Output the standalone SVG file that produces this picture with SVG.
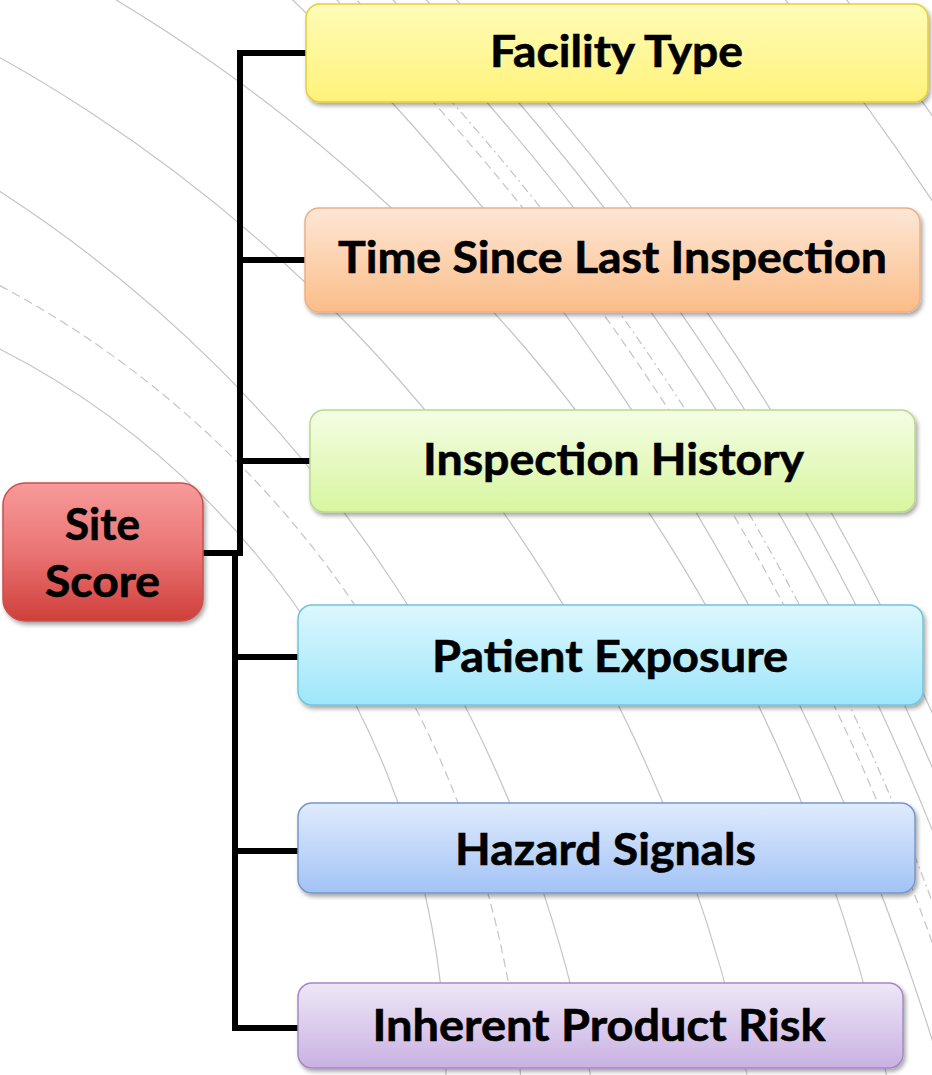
<svg xmlns="http://www.w3.org/2000/svg" width="932" height="1075" viewBox="0 0 932 1075">
<style>
.arc{fill:none;stroke:#c4c4c4;stroke-width:1.2}
.dash{stroke-dasharray:9 5}
.dd{stroke-dasharray:9 4 2 4}
.conn{fill:none;stroke:#000;stroke-width:6;stroke-linejoin:miter}
.lbl{font-family:Lato,'Open Sans','Liberation Sans',sans-serif;font-weight:bold;font-size:44px;fill:#000;stroke:#000;stroke-width:0.6;text-anchor:middle}
.box{stroke-width:1.5;filter:url(#sh)}
</style>
<defs>
<filter id="sh" x="-5%" y="-15%" width="115%" height="140%">
<feDropShadow dx="2" dy="3" stdDeviation="2" flood-color="#000" flood-opacity="0.35"/>
</filter>
<linearGradient id="gRed" x1="0" y1="0" x2="0" y2="1"><stop offset="0" stop-color="#f89a9a"/><stop offset="0.5" stop-color="#ea7474"/><stop offset="1" stop-color="#cf3f3a"/></linearGradient>
<linearGradient id="gYel" x1="0" y1="0" x2="0" y2="1"><stop offset="0" stop-color="#fffcb8"/><stop offset="1" stop-color="#fff27a"/></linearGradient>
<linearGradient id="gOra" x1="0" y1="0" x2="0" y2="1"><stop offset="0" stop-color="#fde7d6"/><stop offset="1" stop-color="#fbbd88"/></linearGradient>
<linearGradient id="gGrn" x1="0" y1="0" x2="0" y2="1"><stop offset="0" stop-color="#f4fde4"/><stop offset="1" stop-color="#d8f6a0"/></linearGradient>
<linearGradient id="gCyn" x1="0" y1="0" x2="0" y2="1"><stop offset="0" stop-color="#ddf7fe"/><stop offset="1" stop-color="#9ee6fa"/></linearGradient>
<linearGradient id="gBlu" x1="0" y1="0" x2="0" y2="1"><stop offset="0" stop-color="#e0ebfd"/><stop offset="1" stop-color="#a2c3f6"/></linearGradient>
<linearGradient id="gPur" x1="0" y1="0" x2="0" y2="1"><stop offset="0" stop-color="#eee7f7"/><stop offset="1" stop-color="#c9b1e2"/></linearGradient>
</defs>
<rect x="0" y="0" width="932" height="1075" fill="#fff"/>
<g id="background-arcs">
<circle class="arc" cx="-374" cy="1079" r="820"/>
<circle class="arc dash" cx="-464" cy="1158" r="988"/>
<circle class="arc" cx="-727" cy="1316" r="1339"/>
<circle class="arc" cx="-743" cy="1386" r="1522"/>
<circle class="arc" cx="-754" cy="1437" r="1680"/>
<circle class="arc" cx="-1458" cy="1793" r="2506"/>
<circle class="arc dash" cx="-1458" cy="1793" r="2537"/>
<circle class="arc dd" cx="-1458" cy="1793" r="2551"/>
<circle class="arc" cx="-1458" cy="1793" r="2577"/>
<circle class="arc" cx="-1458" cy="1793" r="2601"/>
<circle class="arc" cx="-1458" cy="1793" r="2623"/>
<circle class="arc" cx="-1458" cy="1793" r="2872"/>
<circle class="arc" cx="-1458" cy="1793" r="2920"/>
</g>
<g id="connectors">
<path class="conn" d="M203,553 H240 V53 H307"/>
<path class="conn" d="M203,553 H240 V260 H306"/>
<path class="conn" d="M203,553 H240 V461 H311"/>
<path class="conn" d="M203,553 H235 V657 H299"/>
<path class="conn" d="M203,553 H235 V851 H299"/>
<path class="conn" d="M203,553 H235 V1028 H299"/>
</g>
<g id="site-score">
<rect class="box" x="3" y="483" width="200" height="138" rx="22" fill="url(#gRed)" stroke="#c9504c"/>
<text class="lbl" x="102.5" y="540" textLength="75" lengthAdjust="spacingAndGlyphs">Site</text>
<text class="lbl" x="102.5" y="597" textLength="115" lengthAdjust="spacingAndGlyphs">Score</text>
</g>
<g id="facility-type">
<rect class="box" x="306" y="4" width="622" height="98" rx="14" fill="url(#gYel)" stroke="#e6cd3e"/>
<text class="lbl" x="616.5" y="67" textLength="253" lengthAdjust="spacingAndGlyphs">Facility Type</text>
</g>
<g id="time-since-last-inspection">
<rect class="box" x="305" y="208" width="615" height="104" rx="14" fill="url(#gOra)" stroke="#eab08a"/>
<text class="lbl" x="612.5" y="273" textLength="549" lengthAdjust="spacingAndGlyphs">Time Since Last Inspection</text>
</g>
<g id="inspection-history">
<rect class="box" x="310" y="410" width="605" height="102" rx="14" fill="url(#gGrn)" stroke="#b9d98e"/>
<text class="lbl" x="613.5" y="475" textLength="381" lengthAdjust="spacingAndGlyphs">Inspection History</text>
</g>
<g id="patient-exposure">
<rect class="box" x="298" y="605" width="625" height="100" rx="14" fill="url(#gCyn)" stroke="#6fc5dd"/>
<text class="lbl" x="610" y="672" textLength="356" lengthAdjust="spacingAndGlyphs">Patient Exposure</text>
</g>
<g id="hazard-signals">
<rect class="box" x="298" y="803" width="617" height="90" rx="14" fill="url(#gBlu)" stroke="#7597cc"/>
<text class="lbl" x="605.5" y="865" textLength="301" lengthAdjust="spacingAndGlyphs">Hazard Signals</text>
</g>
<g id="inherent-product-risk">
<rect class="box" x="298" y="983" width="605" height="85" rx="14" fill="url(#gPur)" stroke="#a489c6"/>
<text class="lbl" x="599" y="1041" textLength="453" lengthAdjust="spacingAndGlyphs">Inherent Product Risk</text>
</g>
</svg>
